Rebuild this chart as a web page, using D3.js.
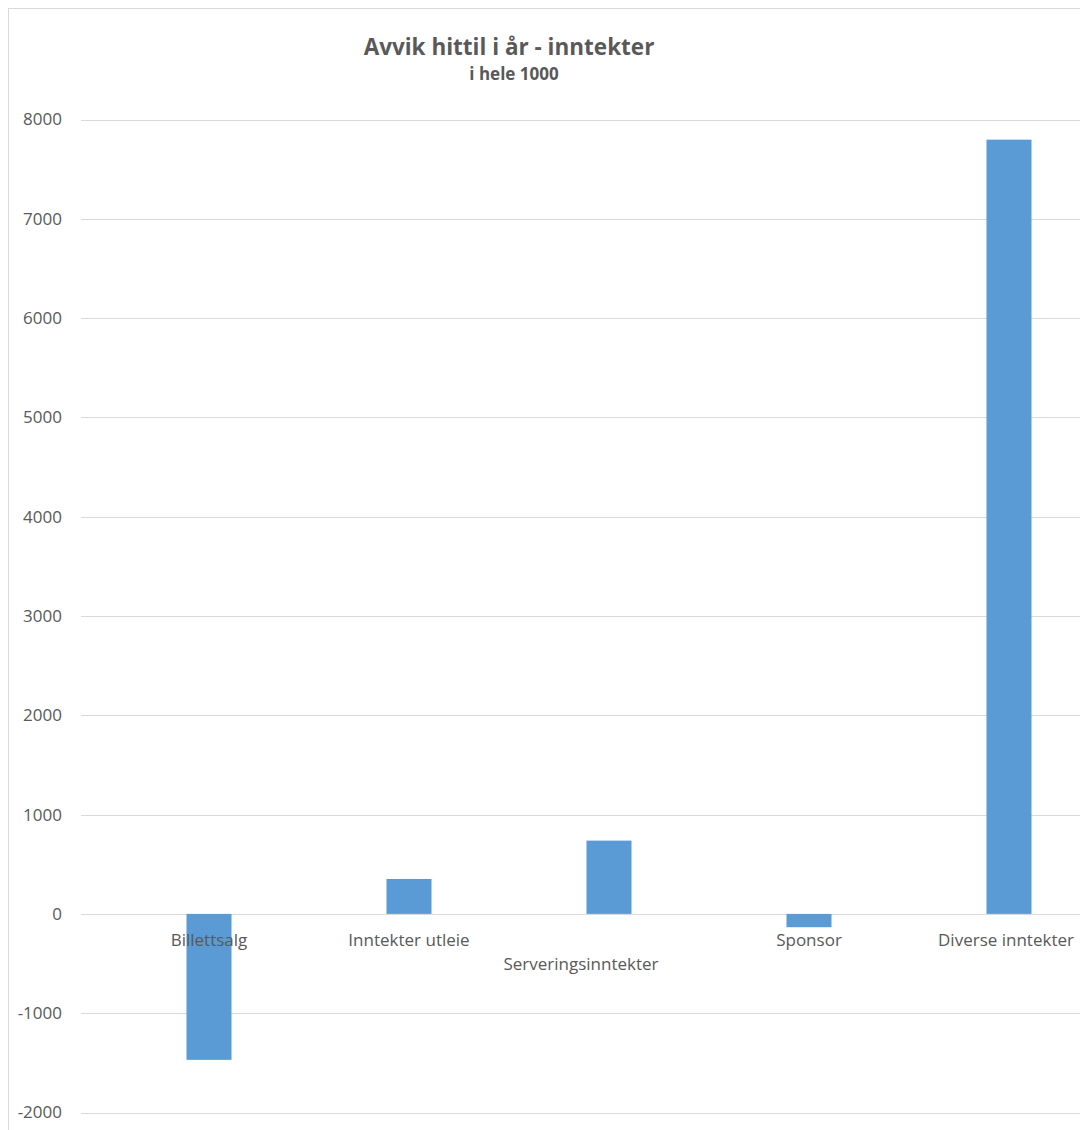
<!DOCTYPE html>
<html><head><meta charset="utf-8">
<script src="https://cdn.jsdelivr.net/npm/d3@7"></script>
<style>body{margin:0;background:#fff}svg{display:block}</style>
</head><body>
<script>
const categories = ["Billettsalg","Inntekter utleie","Serveringsinntekter","Sponsor","Diverse inntekter"];
const values = [-1470, 352, 738, -134, 7797];
const tickValues = [-2000,-1000,0,1000,2000,3000,4000,5000,6000,7000,8000];
const title = "Avvik hittil i år - inntekter";
const subtitle = "i hele 1000";

const W = 1080, H = 1130;
const svg = d3.select("body").append("svg").attr("width", W).attr("height", H);
svg.append("rect").attr("x",8.5).attr("y",8.5).attr("width",W).attr("height",H)
  .attr("fill","#fff").attr("stroke","#d9d9d9");

const y = d3.scaleLinear().domain([-2000, 8000]).range([1112.5, 119.5]);
const x = d3.scaleBand().domain(categories).range([109, 1109]).paddingInner(0.775).paddingOuter(0.3875);

const font = "'Open Sans', sans-serif";
svg.append("g").selectAll("line").data(tickValues).join("line")
  .attr("x1",81).attr("x2",1080).attr("y1",d=>Math.round(y(d))+0.5).attr("y2",d=>Math.round(y(d))+0.5)
  .attr("stroke","#d9d9d9").attr("stroke-width",1);

const yAxis = d3.axisLeft(y).tickValues(tickValues).tickSize(0).tickPadding(0).tickFormat(d=>String(d));
const ga = svg.append("g").attr("transform","translate(62,0)").call(yAxis);
ga.select(".domain").remove();
ga.selectAll("text").attr("font-family",font).attr("font-size",17).attr("fill","#595959");

svg.append("g").selectAll("rect").data(values).join("rect")
  .attr("x",(d,i)=>x(categories[i])).attr("width",x.bandwidth())
  .attr("y",d=>y(Math.max(0,d))).attr("height",d=>Math.abs(y(d)-y(0)))
  .attr("fill","#5b9bd5");

svg.append("g").selectAll("text").data(categories).join("text")
  .attr("x",(d,i)=>x(d)+x.bandwidth()/2 + (i===2 ? -28 : i===4 ? -3 : 0))
  .attr("y",(d,i)=> i===2 ? 970 : 946)
  .attr("text-anchor","middle").attr("font-family",font).attr("font-size",17).attr("fill","#595959")
  .text(d=>d);

svg.append("text").attr("x",509).attr("y",55).attr("text-anchor","middle")
  .attr("font-family",font).attr("font-weight","bold").attr("font-size",22.5).attr("fill","#595959").text(title);
svg.append("text").attr("x",514).attr("y",80).attr("text-anchor","middle")
  .attr("font-family",font).attr("font-weight","bold").attr("font-size",17).attr("fill","#595959").text(subtitle);
</script>
</body></html>
